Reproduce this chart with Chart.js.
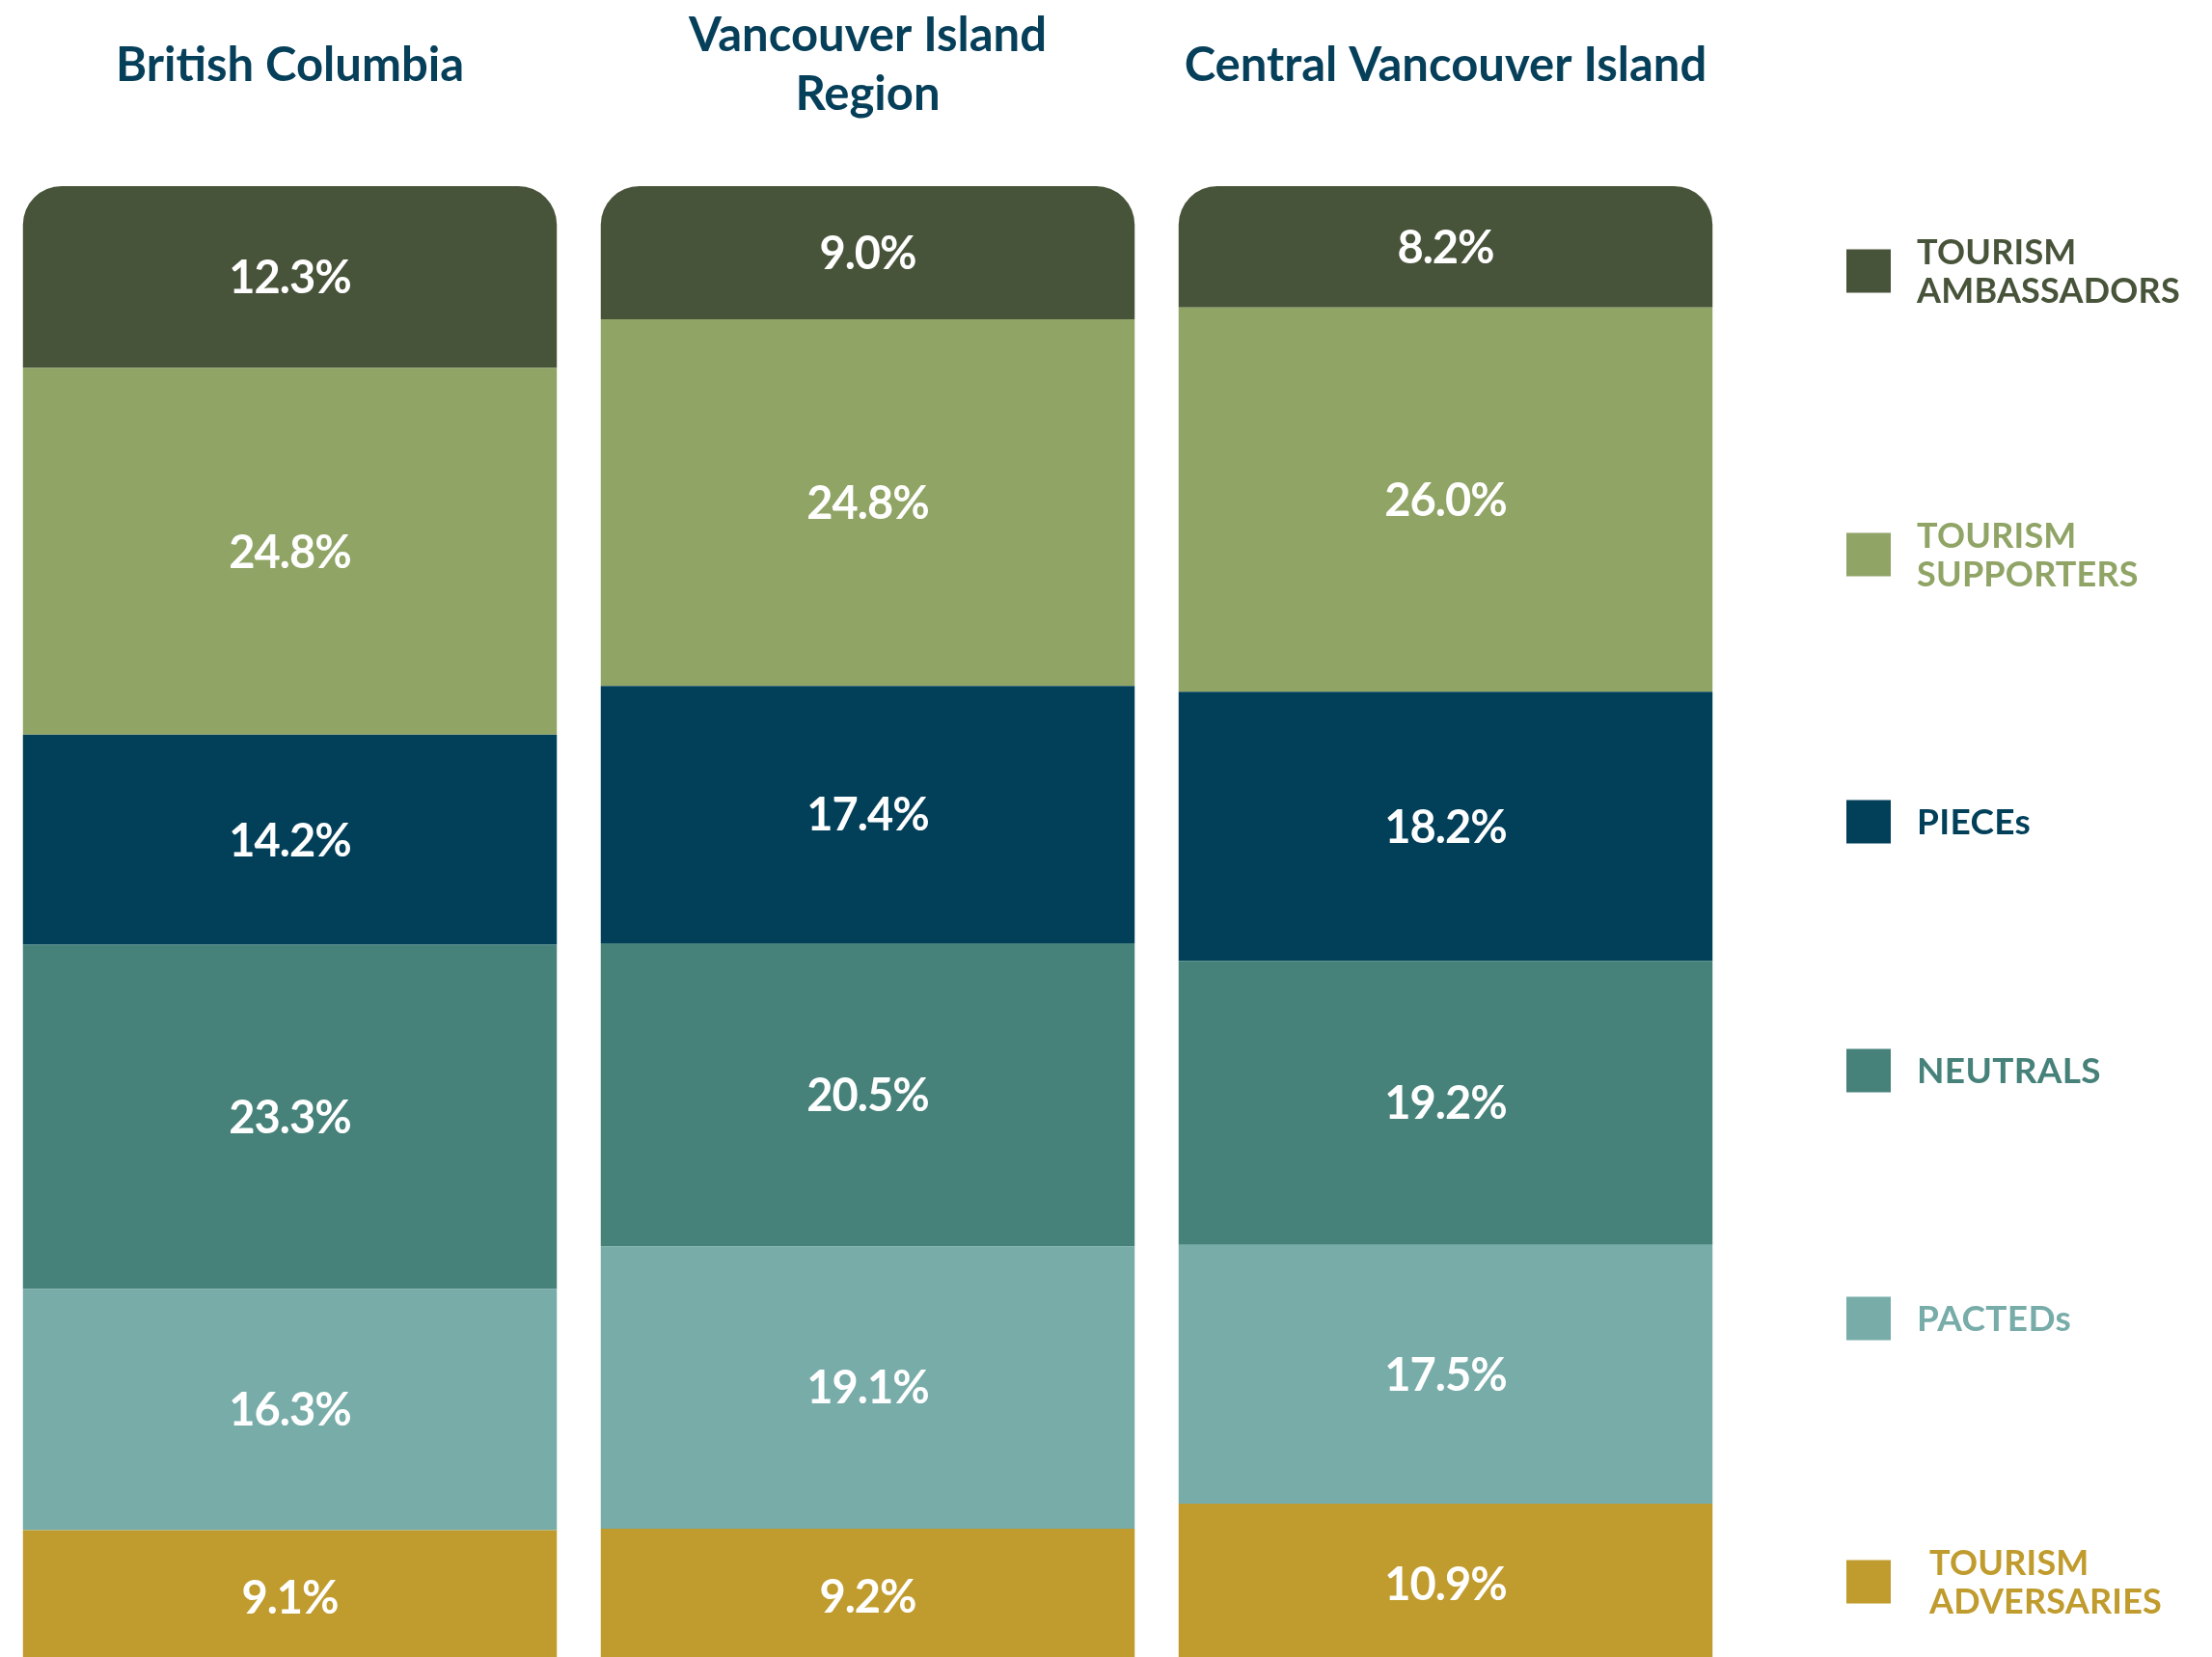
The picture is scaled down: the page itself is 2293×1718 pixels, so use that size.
<!DOCTYPE html>
<html>
<head>
<meta charset="utf-8">
<script src="https://cdn.jsdelivr.net/npm/chart.js@4.4.1/dist/chart.umd.min.js"></script>
<style>
  html, body { margin: 0; padding: 0; background: #fff; overflow: hidden; }
  #segChart { display: block; }
</style>
</head>
<body>
<canvas id="segChart" width="2293" height="1730"></canvas>
<script>
// ============================
// data (percent of residents per segment)
const regions = ["British Columbia", ["Vancouver Island", "Region"], "Central Vancouver Island"];

const ambassadors = [12.3, 9.0, 8.2];
const supporters  = [24.8, 24.8, 26.0];
const pieces      = [14.2, 17.4, 18.2];
const neutrals    = [23.3, 20.5, 19.2];
const pacteds     = [16.3, 19.1, 17.5];
const adversaries = [9.1, 9.2, 10.9];

const segmentLabels = [
  ["TOURISM", "AMBASSADORS"],
  ["TOURISM", "SUPPORTERS"],
  ["PIECEs"],
  ["NEUTRALS"],
  ["PACTEDs"],
  ["TOURISM", "ADVERSARIES"]
];

// ============================
// styles
const colors = {
  ambassadors: "#48543a",
  supporters:  "#8fa465",
  pieces:      "#02405a",
  neutrals:    "#46827a",
  pacteds:     "#77aca9",
  adversaries: "#c09b2d"
};
const titleColor = "#063f59";
const FONT = "Lato, 'Noto Sans', sans-serif";

// legend rows, top to bottom (layout only)
const legendRows = [
  { color: colors.ambassadors, cy: 281 },
  { color: colors.supporters,  cy: 575 },
  { color: colors.pieces,      cy: 852 },
  { color: colors.neutrals,    cy: 1110 },
  { color: colors.pacteds,     cy: 1367 },
  { color: colors.adversaries, cy: 1640 }
];

// ============================
function capBaseline(cy, size) {
  return cy + size * 0.36;
}

// ============================
const titlesPlugin = {
  id: "titles",
  afterDraw(chart) {
    const ctx = chart.ctx;
    const xScale = chart.scales.x;
    const size = 49;
    const lineH = 61;
    ctx.save();
    ctx.fillStyle = titleColor;
    ctx.font = `bold ${size}px ${FONT}`;
    ctx.textAlign = "center";
    ctx.textBaseline = "alphabetic";
    regions.forEach((r, i) => {
      const lines = Array.isArray(r) ? r : [r];
      const x = xScale.getPixelForValue(i);
      const first = 66 - (lines.length - 1) * lineH / 2;
      lines.forEach((ln, j) => {
        ctx.fillText(ln, x, capBaseline(first + j * lineH, size));
      });
    });
    ctx.restore();
  }
};

// ============================
const valueLabelsPlugin = {
  id: "valueLabels",
  afterDatasetsDraw(chart) {
    const ctx = chart.ctx;
    const size = 47;
    ctx.save();
    ctx.fillStyle = "#ffffff";
    ctx.font = `bold ${size}px ${FONT}`;
    ctx.textAlign = "center";
    ctx.textBaseline = "alphabetic";
    if ("letterSpacing" in ctx) ctx.letterSpacing = "-1px";
    chart.data.datasets.forEach((ds, di) => {
      const meta = chart.getDatasetMeta(di);
      meta.data.forEach((bar, i) => {
        const p = bar.getProps(["x", "y", "base"], true);
        const cy = (p.y + p.base) / 2;
        ctx.fillText(ds.data[i].toFixed(1) + "%", p.x, capBaseline(cy, size));
      });
    });
    ctx.restore();
  }
};

// ============================
const legendPlugin = {
  id: "sideLegend",
  afterDraw(chart) {
    const ctx = chart.ctx;
    const size = 36;
    const lineH = 40;
    const sq = 45;
    ctx.save();
    ctx.textAlign = "left";
    ctx.textBaseline = "alphabetic";
    legendRows.forEach((row, i) => {
      ctx.fillStyle = row.color;
      ctx.fillRect(1914, row.cy - sq / 2, sq + 1, sq);
      const lines = segmentLabels[i];
      const single = lines.length === 1;
      ctx.font = `bold ${size + (single ? 1 : 0)}px ${FONT}`;
      if ("letterSpacing" in ctx) ctx.letterSpacing = single ? "0.3px" : "0.2px";
      const first = row.cy - (lines.length - 1) * lineH / 2;
      const tx = i === 5 ? 2000 : 1987;
      lines.forEach((ln, j) => {
        ctx.fillText(ln, tx, capBaseline(first + j * lineH, size));
      });
    });
    ctx.restore();
  }
};

// ============================
function makeDataset(label, values, color, radius) {
  return {
    label: label,
    data: values,
    backgroundColor: color,
    borderWidth: 0,
    borderRadius: radius || 0,
    borderSkipped: "start",
    barPercentage: 1,
    categoryPercentage: 0.924
  };
}

new Chart(document.getElementById("segChart"), {
  type: "bar",
  data: {
    labels: regions.map(r => Array.isArray(r) ? r.join(" ") : r),
    // stacked bottom-up
    datasets: [
      makeDataset("Tourism Adversaries", adversaries, colors.adversaries),
      makeDataset("PACTEDs", pacteds, colors.pacteds),
      makeDataset("Neutrals", neutrals, colors.neutrals),
      makeDataset("PIECEs", pieces, colors.pieces),
      makeDataset("Tourism Supporters", supporters, colors.supporters),
      makeDataset("Tourism Ambassadors", ambassadors, colors.ambassadors,
        { topLeft: 40, topRight: 40, bottomLeft: 0, bottomRight: 0 })
    ]
  },
  options: {
    responsive: false,
    animation: false,
    layout: { padding: { left: 1, right: 495, top: 193, bottom: 4 } },
    scales: {
      x: { stacked: true, display: false },
      y: { stacked: true, display: false, min: 0, max: 100 }
    },
    plugins: {
      legend: { display: false },
      tooltip: { enabled: false }
    }
  },
  plugins: [titlesPlugin, valueLabelsPlugin, legendPlugin]
});
</script>
</body>
</html>
